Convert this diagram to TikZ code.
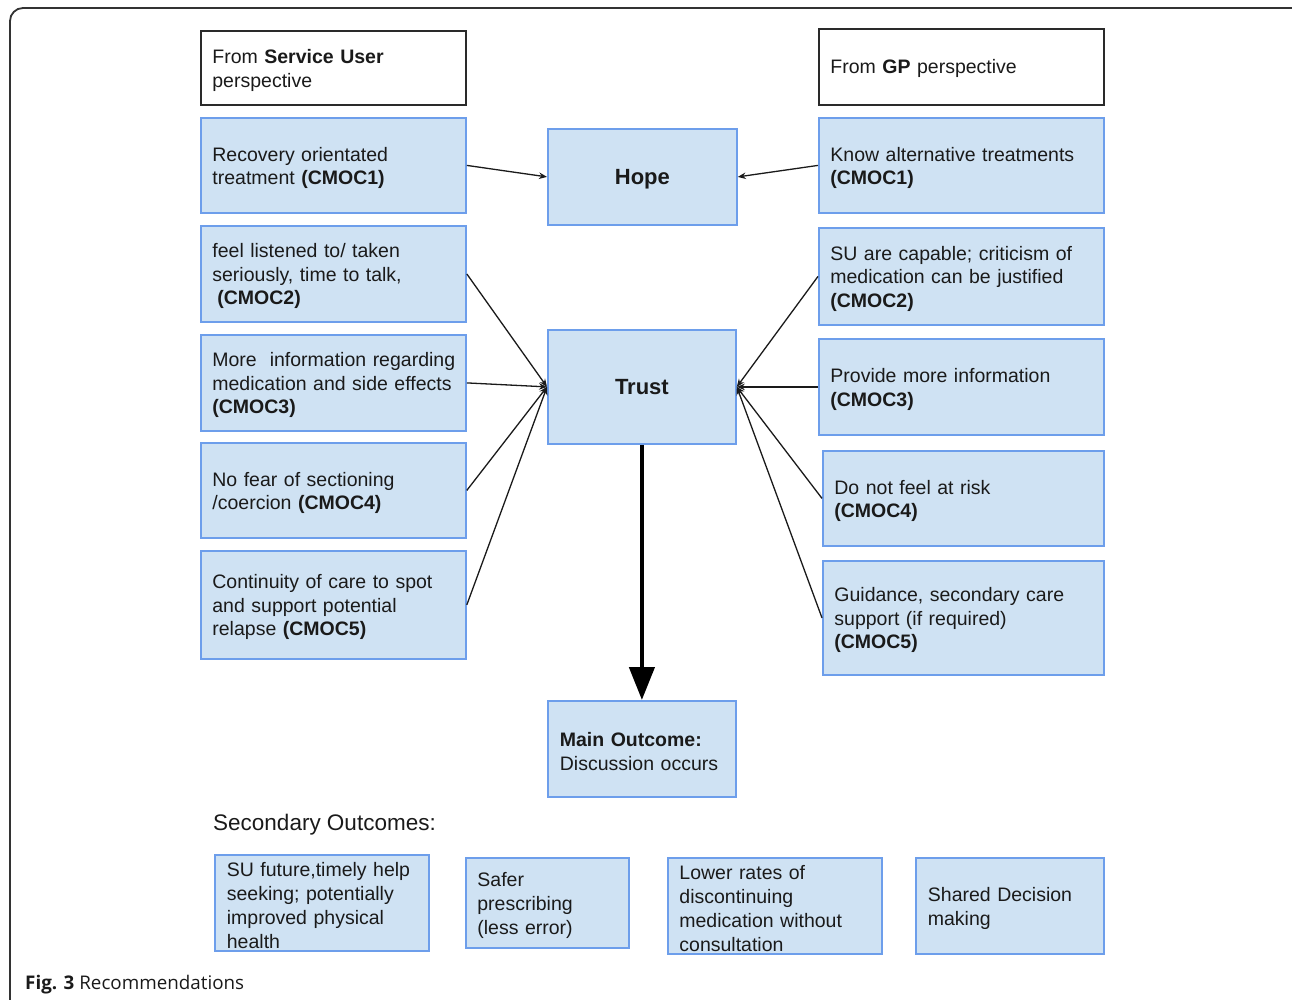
\documentclass[tikz,border=0pt]{standalone}
\usepackage{fontspec}
\setmainfont{Liberation Sans}
\newfontfamily\capfont{Open Sans}
\usetikzlibrary{arrows.meta}
\definecolor{boxfill}{HTML}{CFE2F3}
\definecolor{boxblue}{HTML}{6D9EEB}
\definecolor{txt}{HTML}{1A1A1A}
\definecolor{hdr}{HTML}{2A2A2A}
\definecolor{framec}{HTML}{333333}
\tikzset{
  bx/.style={rectangle, draw=boxblue, fill=boxfill, line width=1.8pt, anchor=north west,
    inner xsep=11.5pt, inner ysep=0pt, align=left, text=txt,
    font=\fontsize{19.5}{23.5}\selectfont, execute at end node={\par\kern-5pt}},
  hd/.style={bx, draw=hdr, fill=white},
  sec/.style={bx, font=\fontsize{19.5}{24}\selectfont},
  mid/.style={rectangle, draw=boxblue, fill=boxfill, line width=1.8pt, anchor=north west,
    align=center, text=txt, text depth=0pt, font=\fontsize{22}{26}\selectfont\bfseries},
  conn/.style={draw=txt, line width=1.3pt, -{Stealth[length=8pt,width=6.5pt]}},
  bigarrow/.style={draw=black, line width=4.5pt, -{Triangle[length=33pt,width=25pt]}},
  frame/.style={draw=framec, line width=1.8pt, rounded corners=13pt}
}
\begin{document}
\begin{tikzpicture}[x=1pt,y=-1pt]
\useasboundingbox (0,0) rectangle (1292,999);
\clip (0,0) rectangle (1292,999);
\draw[frame] (10,1020) -- (10,8) -- (1310,8) -- (1310,1020);

% headers
\node[hd, minimum width=265pt, minimum height=74pt, text width=242pt] (suh) at (200,30) {From \textbf{Service User}\\perspective};
\node[hd, minimum width=285pt, minimum height=76pt, text width=262pt] (gph) at (818,28) {From \textbf{GP} perspective};

% left column
\node[bx, minimum width=265pt, minimum height=95pt, text width=242pt] (l1) at (200,117) {Recovery orientated\\treatment \textbf{(CMOC1)}};
\node[bx, minimum width=265pt, minimum height=96pt, text width=242pt] (l2) at (200,225) {feel listened to/ taken\\seriously, time to talk,\\\hspace*{5pt}\textbf{(CMOC2)}};
\node[bx, minimum width=265pt, minimum height=96pt, text width=242pt] (l3) at (200,334) {\mbox{More~ information regarding}\\medication and side effects\\\textbf{(CMOC3)}};
\node[bx, minimum width=265pt, minimum height=95pt, text width=242pt] (l4) at (200,442) {No fear of sectioning\\/coercion \textbf{(CMOC4)}};
\node[bx, minimum width=265pt, minimum height=108pt, text width=242pt] (l5) at (200,550) {Continuity of care to spot\\and support potential\\relapse \textbf{(CMOC5)}};

% right column
\node[bx, minimum width=285pt, minimum height=95pt, text width=262pt] (r1) at (818,117) {Know alternative treatments\\\textbf{(CMOC1)}};
\node[bx, minimum width=285pt, minimum height=97pt, text width=262pt] (r2) at (818,227) {SU are capable; criticism of\\medication can be justified\\\textbf{(CMOC2)}};
\node[bx, minimum width=285pt, minimum height=96pt, text width=262pt] (r3) at (818,338) {Provide more information\\\textbf{(CMOC3)}};
\node[bx, minimum width=281pt, minimum height=95pt, text width=258pt] (r4) at (822,450) {Do not feel at risk\\\textbf{(CMOC4)}};
\node[bx, minimum width=281pt, minimum height=114pt, text width=258pt] (r5) at (822,560) {Guidance, secondary care\\support (if required)\\\textbf{(CMOC5)}};

% middle
\node[mid, minimum width=189pt, minimum height=96pt] (hope) at (547,128) {Hope};
\node[mid, minimum width=188pt, minimum height=114pt] (trust) at (547,329) {Trust};
\node[bx, minimum width=188pt, minimum height=96pt, text width=164pt, inner xsep=12pt] (main) at (547,700) {\textbf{Main Outcome:}\\Discussion occurs};

% secondary outcomes
\node[anchor=west, inner sep=0pt, text=txt, font=\fontsize{22.5}{26}\selectfont] (sechead) at (213,825) {Secondary Outcomes:};
\node[sec, minimum width=214pt, minimum height=96pt, text width=190pt, inner xsep=12pt] (s1) at (214,854) {SU future,timely help\\seeking; potentially\\improved physical\\health};
\node[sec, minimum width=163pt, minimum height=90pt, text width=140pt] (s2) at (465,857) {Safer\\prescribing\\(less error)};
\node[sec, minimum width=214pt, minimum height=96pt, text width=191pt] (s3) at (667,857) {Lower rates of\\discontinuing\\medication without\\consultation};
\node[sec, minimum width=188pt, minimum height=96pt, text width=164pt, inner xsep=12pt] (s4) at (915,857) {Shared Decision\\making};

% caption
\node[anchor=west, inner sep=0pt, text=txt, font=\capfont\fontsize{18.8}{22}\selectfont] (cap) at (25,985) {\textbf{Fig. 3} Recommendations};

% connectors
\draw[conn] (l1.east) -- (hope.west);
\draw[conn] (r1.west) -- (hope.east);
\draw[conn] (l2.east) -- (trust.west);
\draw[conn] (l3.east) -- (trust.west);
\draw[conn] (l4.east) -- (trust.west);
\draw[conn] (l5.east) -- (trust.west);
\draw[conn] (r2.west) -- (trust.east);
\draw[conn] (r3.west) -- (trust.east);
\draw[conn] (r4.west) -- (trust.east);
\draw[conn] (r5.west) -- (trust.east);
\draw[bigarrow] (trust.south) -- (main.north);
\end{tikzpicture}
\end{document}
